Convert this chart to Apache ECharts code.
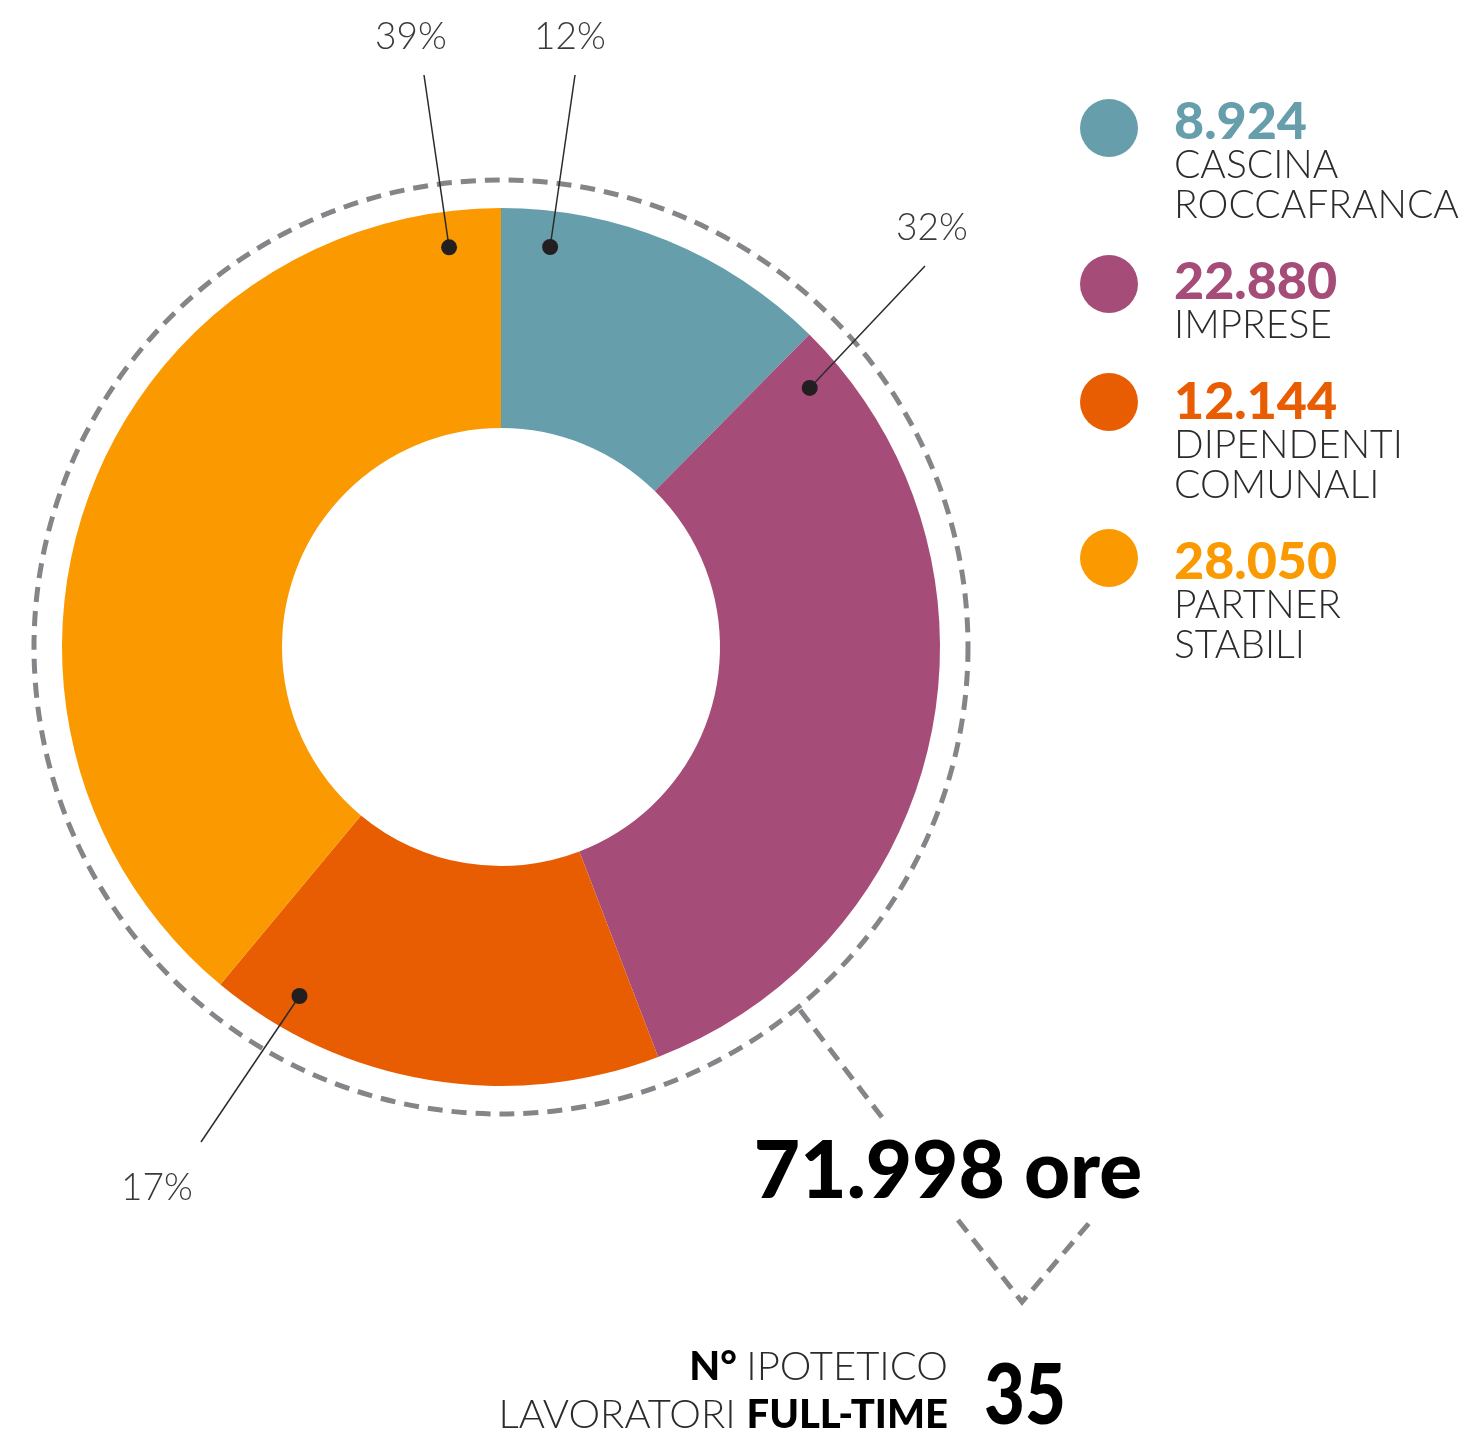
<!DOCTYPE html>
<html>
<head>
<meta charset="utf-8">
<style>
  html, body { margin: 0; padding: 0; background: #fff; }
  #main { width: 1471px; height: 1433px; }
</style>
<script src="https://cdn.jsdelivr.net/npm/echarts@6/dist/echarts.min.js"></script>
</head>
<body>
<div id="main"></div>
<script>
// dati
const names = ['CASCINA\nROCCAFRANCA', 'IMPRESE', 'DIPENDENTI\nCOMUNALI', 'PARTNER\nSTABILI']
const values = [8924, 22880, 12144, 28050]
const colors = ['#679eab', '#a54c78', '#e95d02', '#fb9900']
const fullTime = [35]

// layout
const cx = 501, cy = 647
const dotR = 403
// angolo del pallino (gradi, senso orario dall'alto) e punto finale della linea
const dotAngles = [7, 50, 210, 352.6]
const lineEnds = [[575, 75], [925, 266], [201, 1142], [424, 75]]
const labelPos = [[570, 37], [932, 228], [157, 1188], [411, 37]]
const font = 'Lato'
const textColor = '#2b2b2b'
const dashColor = '#858589'
const dash = [15, 9]

function fmt(n) {
  return String(n).replace(/\B(?=(\d{3})+(?!\d))/g, '.')
}

function dotPoint(i) {
  let a = dotAngles[i] * Math.PI / 180
  return [cx + dotR * Math.sin(a), cy - dotR * Math.cos(a)]
}

let total = values.reduce((s, v) => s + v, 0)

let mychart = echarts.init(document.getElementById('main'))

// legenda a destra
let graphics = []
let cy0 = 128   // centro del cerchio
let ty0 = 121   // centro del valore
names.forEach((name, i) => {
  let lines = name.split('\n').length
  graphics.push({
    type: 'circle',
    shape: { cx: 1109, cy: cy0, r: 29 },
    style: { fill: colors[i] }
  })
  graphics.push({
    type: 'text',
    x: 1174, y: ty0 + 1,
    style: {
      text: fmt(values[i]),
      fill: colors[i],
      font: '900 52px ' + font,
      textVerticalAlign: 'middle'
    }
  })
  graphics.push({
    type: 'text',
    x: 1174, y: ty0 + 24,
    style: {
      text: name,
      fill: textColor,
      font: '300 39px ' + font,
      lineHeight: 40,
      textVerticalAlign: 'top'
    }
  })
  cy0 += 80 + 38 * lines
  ty0 += 80 + 40 * lines
})

// linee e pallini delle etichette
values.forEach((v, i) => {
  let p = dotPoint(i)
  graphics.push({
    type: 'line',
    z: 10,
    shape: { x1: p[0], y1: p[1], x2: lineEnds[i][0], y2: lineEnds[i][1] },
    style: { stroke: '#2b2b2b', lineWidth: 1.5 }
  })
  graphics.push({
    type: 'circle',
    z: 11,
    shape: { cx: p[0], cy: p[1], r: 8 },
    style: { fill: '#231f20' }
  })
})

// cerchio tratteggiato
graphics.push({
  type: 'circle',
  shape: { cx: cx, cy: cy, r: 467 },
  style: { fill: 'none', stroke: dashColor, lineWidth: 5, lineDash: dash }
})
graphics.push({
  type: 'polyline',
  shape: { points: [[800, 1010], [884, 1120]] },
  style: { fill: 'none', stroke: dashColor, lineWidth: 5, lineDash: dash }
})
graphics.push({
  type: 'polyline',
  shape: { points: [[958, 1220], [1022, 1302], [1090, 1222]] },
  style: { fill: 'none', stroke: dashColor, lineWidth: 5, lineDash: dash }
})

// totale ore
graphics.push({
  type: 'text',
  x: 948, y: 1172,
  style: {
    text: fmt(total) + ' ore',
    fill: '#000',
    font: '900 80px ' + font,
    textAlign: 'center',
    textVerticalAlign: 'middle'
  }
})

// lavoratori full-time
graphics.push({
  type: 'text',
  x: 948, y: 1391,
  style: {
    text: '{b|N° }{l|IPOTETICO}\n{l|LAVORATORI }{b|FULL-TIME}',
    textAlign: 'right',
    textVerticalAlign: 'middle',
    lineHeight: 48,
    rich: {
      b: { font: '900 40px ' + font, fill: '#000', lineHeight: 48 },
      l: { font: '300 40px ' + font, fill: textColor, lineHeight: 48 }
    }
  }
})
graphics.push({
  type: 'text',
  x: 984, y: 1397,
  scaleX: 0.84,
  style: {
    text: String(fullTime[0]),
    fill: '#000',
    font: '900 84px ' + font,
    textVerticalAlign: 'middle'
  }
})

let option = {
  animation: false,
  series: [
    {
      type: 'pie',
      center: [cx, cy],
      radius: [219, 439],
      startAngle: 90,
      clockwise: true,
      silent: true,
      itemStyle: { borderWidth: 0 },
      data: values.map((v, i) => ({ value: v, name: names[i], itemStyle: { color: colors[i] } })),
      label: {
        show: true,
        formatter: p => Math.round(p.percent) + '%',
        fontFamily: font,
        fontWeight: 300,
        fontSize: 37,
        color: '#3a3a3a',
        overflow: 'none',
        width: 200
      },
      labelLine: { show: false },
      labelLayout: function (params) {
        let i = params.dataIndex
        return {
          x: labelPos[i][0],
          y: labelPos[i][1],
          align: 'center',
          verticalAlign: 'middle'
        }
      }
    }
  ],
  graphic: graphics
}

mychart.setOption(option)
</script>
</body>
</html>
